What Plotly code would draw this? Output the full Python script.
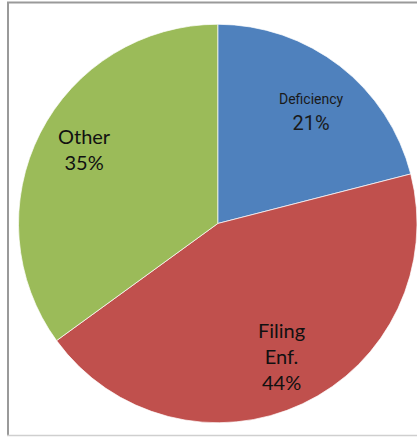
import math
import plotly.graph_objects as go

labels = ["Deficiency", "Filing<br>Enf.", "Other"]
values = [21, 44, 35]
colors = ["#4F81BD", "#C0504D", "#9BBB59"]

W, H = 417, 437
cx, cy, r = 218.0, 223.5, 199.5
# small pixel nudges for label placement (dx, dy downward)
nudges = {"Deficiency": (2, 8), "Filing<br>Enf.": (0, -3), "Other": (0, -7)}

fig = go.Figure(go.Pie(
    labels=labels, values=values, sort=False, direction="clockwise", rotation=0,
    marker=dict(colors=colors, line=dict(color="rgba(255,255,255,0.7)", width=1)),
    textinfo="none", hoverinfo="skip", showlegend=False,
    domain=dict(x=[(cx - r) / W, 1.0], y=[(H - cy - r) / H, (H - cy + r) / H]),
))

total = sum(values)
cum = 0
annos = []
for lab, v in zip(labels, values):
    mid = (cum + v / 2) / total * 2 * math.pi
    cum += v
    f = 0.75
    dx, dy = nudges[lab]
    x = cx + f * r * math.sin(mid) + dx
    y = cy - f * r * math.cos(mid) + dy
    pct = f"{round(v / total * 100)}%"
    if lab == "Deficiency":
        text = f"<span style='font-size:14px'>{lab}</span><br>{pct}"
        font = dict(family="Roboto", size=20, color="#1a1a1a")
    else:
        text = f"{lab}<br>{pct}"
        font = dict(family="Lato", size=20, color="#111111")
    annos.append(dict(x=x / W, y=1 - y / H, xref="paper", yref="paper", text=text,
                      showarrow=False, font=font, align="center",
                      xanchor="center", yanchor="middle"))

shapes = [
    dict(type="line", xref="paper", yref="paper", x0=7 / W, x1=1, y0=1 - 2.5 / H, y1=1 - 2.5 / H,
         line=dict(color="#9a9a9a", width=2)),
    dict(type="line", xref="paper", yref="paper", x0=8 / W, x1=8 / W, y0=1 - 2 / H, y1=1 - 436 / H,
         line=dict(color="#9a9a9a", width=2)),
    dict(type="line", xref="paper", yref="paper", x0=7 / W, x1=1, y0=1 - 435.5 / H, y1=1 - 435.5 / H,
         line=dict(color="#cfcfcf", width=1.5)),
]

fig.update_layout(width=W, height=H, margin=dict(l=0, r=0, t=0, b=0),
                  paper_bgcolor="white", plot_bgcolor="white",
                  annotations=annos, shapes=shapes)
fig.write_html("out.html")
